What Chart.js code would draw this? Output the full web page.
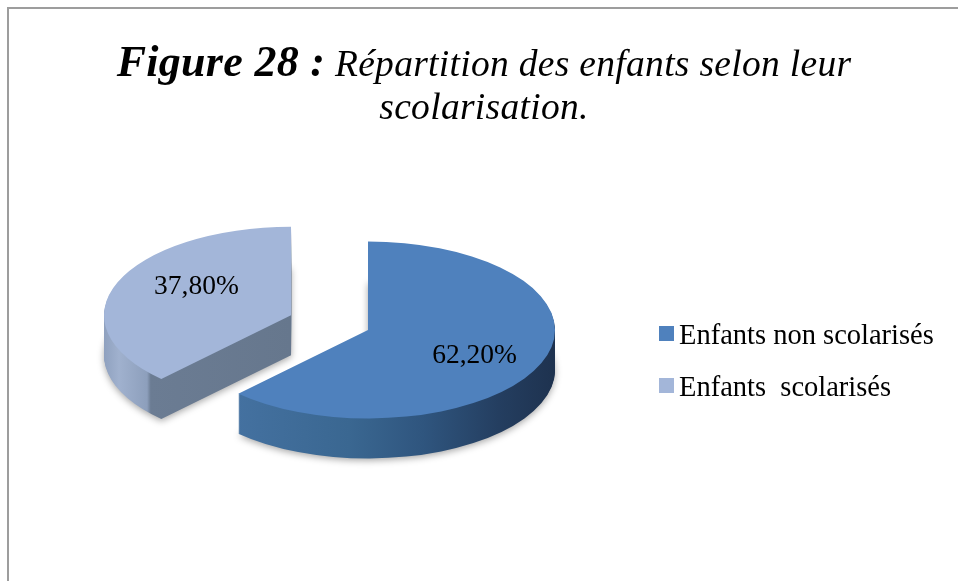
<!DOCTYPE html>
<html>
<head>
<meta charset="utf-8">
<script src="https://cdn.jsdelivr.net/npm/chart.js@4/dist/chart.umd.min.js"></script>
<style>
  html, body { margin: 0; padding: 0; background: #fff; width: 958px; height: 581px; overflow: hidden; }
  #frame { position: absolute; left: 7px; top: 7px; width: 1100px; height: 800px;
           border-left: 2px solid #9d9d9d; border-top: 2px solid #9d9d9d; }
  #chartBox { position: absolute; left: 0; top: 0; width: 958px; height: 581px; }
  .title { position: absolute; left: 0; width: 968px; text-align: center; white-space: pre;
           line-height: 0; font-family: "Liberation Serif", serif; color: #000; font-style: italic; }
  .leg { position: absolute; white-space: pre; line-height: 0; font-family: "Liberation Serif", serif;
         font-size: 28.5px; color: #000; }
  .legbox { position: absolute; width: 15px; height: 15px; }
</style>
</head>
<body>
<div id="frame"></div>
<div id="chartBox"><canvas id="c" width="958" height="581"></canvas></div>
<div class="title" style="top:62px;font-size:44px;letter-spacing:0.3px;"><b>Figure 28 :</b><span style="font-size:37.5px;"> Répartition des enfants selon leur</span></div>
<div class="title" style="top:107px;font-size:37.5px;letter-spacing:0.3px;">scolarisation.</div>
<div id="legend"></div>
<script>
// ---- data ----
const categories = ['Enfants non scolarisés', 'Enfants  scolarisés'];
const values = [62.2, 37.8];
const valueLabels = values.map(v => v.toFixed(2).replace('.', ',') + '%');

// ---- style ----
const topColors = ['#4F81BD', '#A3B6D9'];
const SQ = 0.473;          // vertical squash of the tilted pie
const DEPTH = 40;          // thickness of the 3D side
const EXPLODE = [0, 83];   // explosion distance per slice
const LABEL_FX = 0.58, LABEL_FY = 0.83, LABEL_SHIFT = [6, -3];

function sideFill(ctx, el, i) {
  const R = el.outerRadius;
  const g = ctx.createLinearGradient(el.x - R, 0, el.x + R, 0);
  if (i === 0) {
    g.addColorStop(0.0, '#4673a2');
    g.addColorStop(0.15, '#4471a0');
    g.addColorStop(0.45, '#3a6791');
    g.addColorStop(0.65, '#2f557e');
    g.addColorStop(0.85, '#243e60');
    g.addColorStop(1.0, '#1e324f');
  } else {
    g.addColorStop(0.0, '#8fa1bf');
    g.addColorStop(0.04, '#a0b1ce');
    g.addColorStop(0.115, '#8d9fbc');
    g.addColorStop(0.125, '#6b7c93');
    g.addColorStop(0.5, '#66778d');
    g.addColorStop(1.0, '#66778d');
  }
  return g;
}

function sliceShift(el, i) {
  const mid = (el.startAngle + el.endAngle) / 2;
  return { mid, dx: Math.cos(mid) * EXPLODE[i], dy: Math.sin(mid) * EXPLODE[i] };
}

const pie3d = {
  id: 'pie3d',
  beforeDatasetsDraw(chart) {
    const ctx = chart.ctx;
    const meta = chart.getDatasetMeta(0);
    const order = meta.data.map((_, i) => i).reverse();
    for (const i of order) {
      const el = meta.data[i];
      const orig = el.options;
      const { dx, dy } = sliceShift(el, i);
      const side = sideFill(ctx, el, i);
      for (let d = DEPTH; d >= 0; d--) {
        ctx.save();
        if (d === DEPTH) {
          ctx.shadowColor = 'rgba(0,0,0,0.35)';
          ctx.shadowBlur = 7;
          ctx.shadowOffsetY = 2;
        }
        ctx.translate(0, d);
        ctx.translate(el.x, el.y);
        ctx.scale(1, SQ);
        ctx.translate(-el.x, -el.y);
        ctx.translate(dx, dy);
        el.options = Object.assign({}, orig, {
          backgroundColor: d === 0 ? orig.backgroundColor : side,
          borderWidth: 0, offset: 0
        });
        el.draw(ctx);
        el.options = orig;
        ctx.restore();
      }
    }
    return false;
  },
  afterDraw(chart) {
    const ctx = chart.ctx;
    const meta = chart.getDatasetMeta(0);
    ctx.save();
    ctx.font = '27.5px "Liberation Serif"';
    ctx.fillStyle = '#000';
    ctx.textAlign = 'center';
    ctx.textBaseline = 'alphabetic';
    meta.data.forEach((el, i) => {
      const { mid, dx, dy } = sliceShift(el, i);
      const R = el.outerRadius;
      const x = el.x + dx + Math.cos(mid) * R * LABEL_FX + LABEL_SHIFT[0];
      const y = el.y + (dy + Math.sin(mid) * R * LABEL_FY) * SQ + LABEL_SHIFT[1];
      ctx.fillText(valueLabels[i], x, y + 9);
    });
    ctx.restore();
  }
};

new Chart(document.getElementById('c'), {
  type: 'pie',
  data: {
    labels: categories,
    datasets: [{ data: values, backgroundColor: topColors, borderWidth: 0, clip: false }]
  },
  options: {
    responsive: false,
    animation: false,
    radius: 187,
    layout: { padding: { left: 0, right: 222, top: 79, bottom: 0 } },
    plugins: { legend: { display: false }, tooltip: { enabled: false }, title: { display: false } }
  },
  plugins: [pie3d]
});

// ---- legend (HTML) ----
const legend = document.getElementById('legend');
const legBaselines = [345, 397];
categories.forEach((name, i) => {
  const box = document.createElement('div');
  box.className = 'legbox';
  box.style.left = '659px';
  box.style.top = (legBaselines[i] - 19) + 'px';
  box.style.background = topColors[i];
  legend.appendChild(box);
  const t = document.createElement('div');
  t.className = 'leg';
  t.style.left = '679px';
  t.style.top = (legBaselines[i] - 9.6) + 'px';
  t.textContent = name;
  legend.appendChild(t);
});
</script>
</body>
</html>
